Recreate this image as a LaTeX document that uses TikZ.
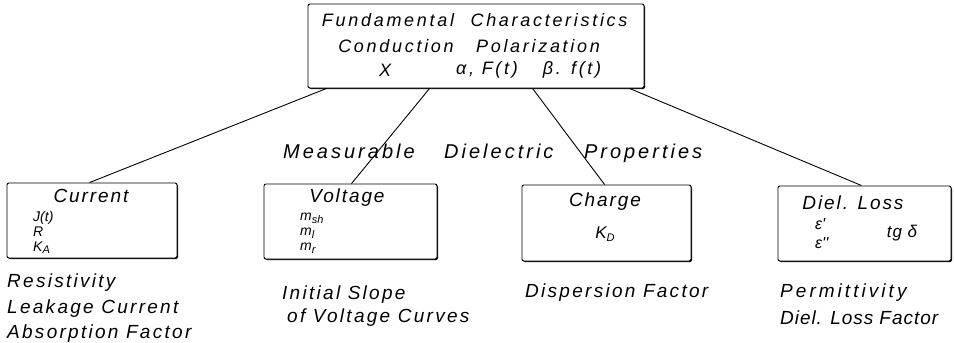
\documentclass[tikz,border=0pt]{standalone}
\usepackage{fontspec}
\setmainfont{Liberation Sans}
\newfontfamily\lett[LetterSpace=12]{Liberation Sans}
\usetikzlibrary{shadows}
\newcommand\sbx[1]{\raisebox{-0.35ex}{\fontsize{11}{11}\selectfont #1}}
\tikzset{
  box/.style={draw, line width=0.9pt, rounded corners=2pt, fill=white, inner sep=0pt,
    drop shadow={shadow xshift=1pt, shadow yshift=-1pt, opacity=1, fill=black}},
  conn/.style={line width=0.9pt},
  txt/.style={inner sep=0pt, font=\lett\itshape\fontsize{19}{22}\selectfont},
  ttl/.style={inner sep=0pt, font=\lett\itshape\fontsize{19}{22}\selectfont\addfontfeature{LetterSpace=10}},
  toptxt/.style={inner sep=0pt, font=\lett\itshape\fontsize{18}{22}\selectfont\addfontfeature{LetterSpace=15}},
  meas/.style={inner sep=0pt, font=\lett\itshape\fontsize{20}{24}\selectfont\addfontfeature{LetterSpace=15}},
  items/.style={inner sep=0pt, align=left, anchor=north west,
    font=\lett\itshape\fontsize{14}{15}\selectfont\addfontfeature{LetterSpace=0}},
  bigitem/.style={inner sep=0pt, font=\lett\itshape\fontsize{17}{19}\selectfont\addfontfeature{LetterSpace=5}},
  epsitem/.style={inner sep=0pt, anchor=base west,
    font=\lett\itshape\fontsize{16}{16}\selectfont\addfontfeature{LetterSpace=0}},
}
\begin{document}
\begin{tikzpicture}[x=1pt,y=-1pt]
\fill[white] (0,0) rectangle (954,343);
\useasboundingbox (0,0) rectangle (954,343);

% top box
\node[box, minimum width=336pt, minimum height=84pt] (top) at (476,46) {};
\node[toptxt] (t1a) at (388,20) {Fundamental};
\node[toptxt] (t1b) at (549,20) {Characteristics};
\node[toptxt] (t2a) at (396,46) {Conduction};
\node[toptxt] (t2b) at (538,46) {Polarization};
\node[toptxt] (t3a) at (385,70) {X};
\node[toptxt] (t3b) at (487,70) {α, F(t)};
\node[toptxt] (t3c) at (572,70) {β. f(t)};

% child boxes
\node[box, minimum width=170pt, minimum height=75pt] (cur) at (92,220.5) {};
\node[box, minimum width=173pt, minimum height=75pt] (vol) at (350.5,221.5) {};
\node[box, minimum width=169pt, minimum height=76pt] (chg) at (606.5,223) {};
\node[box, minimum width=173pt, minimum height=75pt] (loss) at (864.5,223.5) {};

% connectors
\draw[conn] ([xshift=19pt]top.south west) -- ([xshift=83pt]cur.north west);
\draw[conn] ([xshift=122pt]top.south west) -- ([xshift=88pt]vol.north west);
\draw[conn] ([xshift=225pt]top.south west) -- ([xshift=83pt]chg.north west);
\draw[conn] ([xshift=322pt]top.south west) -- ([xshift=84pt]loss.north west);

% middle label
\node[meas, anchor=west] (mdp) at (283,153) {Measurable\hspace{21pt} Dielectric\hspace{22pt} Properties};

% current box
\node[ttl] (curt) at (91,196) {Current};
\node[items] (citems) at (33,211) {J(t)\\R\\K\sbx{A}};

% voltage box
\node[ttl] (volt) at (347,198) {Voltage};
\node[items] (vitems) at (300,213) {m\sbx{sh}\\m\sbx{l}\\m\sbx{r}};

% charge box
\node[ttl] (chgt) at (605,202) {Charge};
\node[bigitem] (chk) at (605,234) {K\sbx{D}};

% loss box
\node[ttl] (losst) at (853,203) {Diel. Loss};
\node[epsitem] (le1) at (815,229) {ε'};
\node[epsitem] (le2) at (815,248) {ε''};
\node[bigitem] (ltg) at (902,233) {tg δ};

% captions
\node[txt, anchor=west] (c1) at (7,283) {Resistivity};
\node[txt, anchor=west] (c2) at (7,309) {Leakage Current};
\node[txt, anchor=west] (c3) at (7,334) {Absorption Factor};
\node[txt, anchor=west] (c4) at (282,295) {Initial Slope};
\node[txt, anchor=west] (c5) at (287,318) {of Voltage Curves};
\node[txt, anchor=west] (c6) at (525,293) {Dispersion Factor};
\node[txt, anchor=west, font=\lett\itshape\fontsize{19}{22}\selectfont\addfontfeature{LetterSpace=16}] (c7) at (780,293) {Permittivity};
\node[txt, anchor=west, font=\lett\itshape\fontsize{19}{22}\selectfont\addfontfeature{LetterSpace=5}] (c8) at (780,318) {Diel. Loss Factor};
\end{tikzpicture}
\end{document}
